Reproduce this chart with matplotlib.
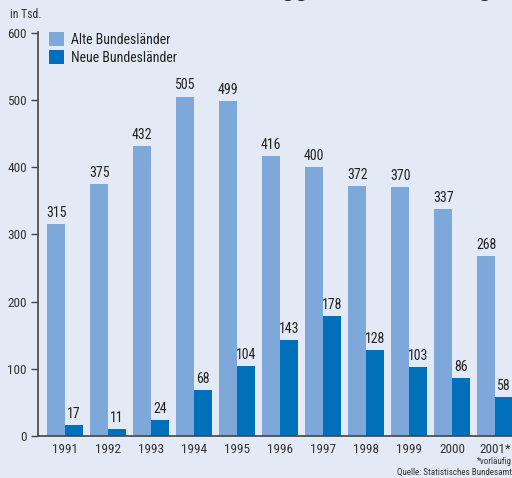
import numpy as np
import matplotlib
matplotlib.use("Agg")
import matplotlib.pyplot as plt

years = ["1991", "1992", "1993", "1994", "1995", "1996", "1997", "1998", "1999", "2000", "2001*"]
alte = [315, 375, 432, 505, 499, 416, 400, 372, 370, 337, 268]
neue = [17, 11, 24, 68, 104, 143, 178, 128, 103, 86, 58]
yticks = [0, 100, 200, 300, 400, 500, 600]

bg = "#e3eaf5"
light = "#7ea8da"
dark = "#0070ba"
txt = "#222222"

plt.rcParams['font.family'] = ['Roboto Condensed', 'DejaVu Sans']

fig = plt.figure(figsize=(5.12, 4.78), dpi=100, facecolor=bg)
ax = fig.add_axes([38/512, 42/478, 1 - 38/512, 404/478], facecolor=bg)

x = np.arange(len(years))
w = 0.41
ax.bar(x - w/2, alte, w, color=light, label="Alte Bundesländer")
ax.bar(x + w/2, neue, w, color=dark, label="Neue Bundesländer")

for i in range(len(years)):
    ax.text(x[i] - w/2, alte[i] + 6, str(alte[i]), ha="center", va="bottom", fontsize=10, color=txt)
    ax.text(x[i] + w/2, neue[i] + 6, str(neue[i]), ha="center", va="bottom", fontsize=10, color=txt)

ax.set_xlim(-0.63, 10.395)
ax.set_ylim(0, 601)
ax.set_yticks(yticks)
ax.set_xticks(x)
ax.set_xticklabels(years, fontsize=9.5, color="#333333")
ax.tick_params(axis="x", length=0, pad=5)
ax.tick_params(axis="y", length=5, width=1, color="#444444", labelsize=9.5, labelcolor="#333333", pad=3)
for s in ["top", "right"]:
    ax.spines[s].set_visible(False)
for s in ["left", "bottom"]:
    ax.spines[s].set_color("#444444")
    ax.spines[s].set_linewidth(1.2)

leg = ax.legend(loc="upper left", bbox_to_anchor=(-0.003, 1.03), frameon=False, fontsize=10,
                handlelength=1.1, handleheight=1.1, handletextpad=0.5, labelspacing=0.25)
for t in leg.get_texts():
    t.set_color(txt)

fig.text(10/512, 1 - 14/478, "in Tsd.", fontsize=8.5, color="#333333", va="center")
fig.text(233/512, 1 + 4/478, "Fertiggestellte Wohnungen", fontsize=19, fontweight="bold",
         color=txt, va="baseline", ha="left")
fig.text(1.0, 1 - 462/478, "*vorläufig", fontsize=6.5, color="#333333", ha="right", va="center")
fig.text(1.0, 1 - 472/478, "Quelle: Statistisches Bundesamt", fontsize=6.5, color="#333333", ha="right", va="center")

fig.savefig("out.png", dpi=100, facecolor=bg)
